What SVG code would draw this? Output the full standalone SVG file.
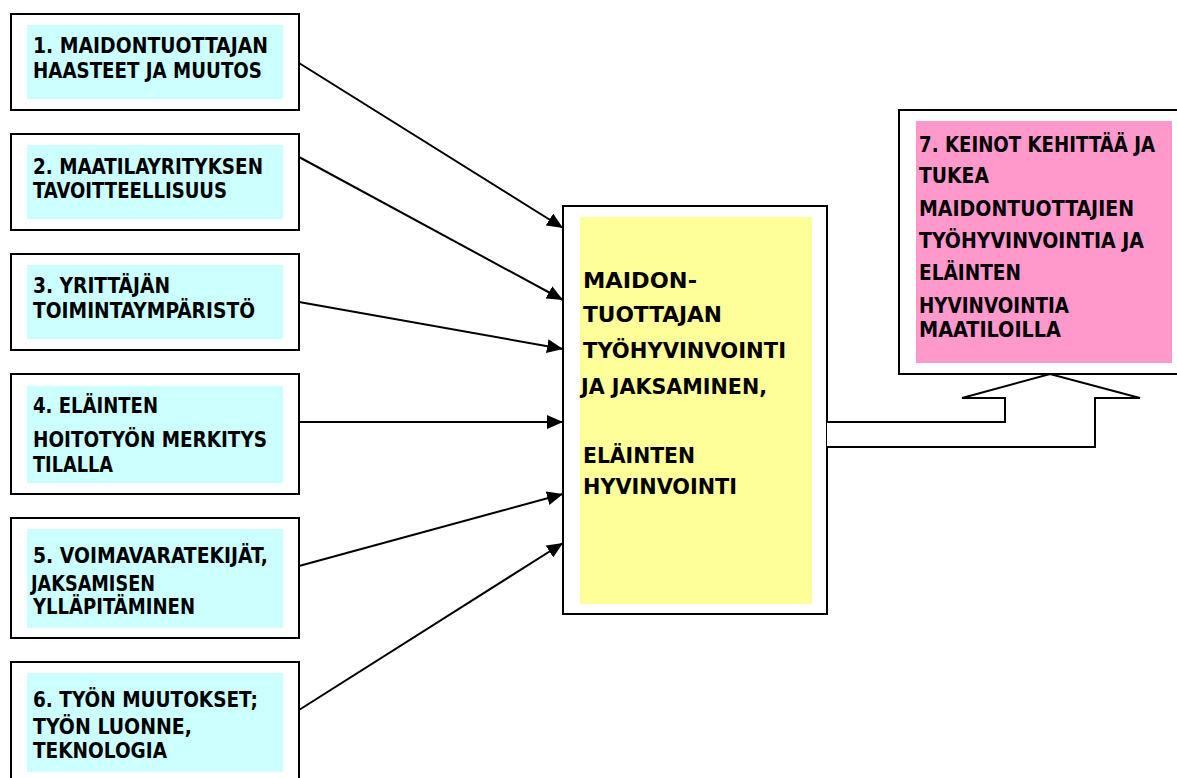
<svg xmlns="http://www.w3.org/2000/svg" width="1177" height="778" viewBox="0 0 1177 778">
<style>
.outer{fill:#fff;stroke:#000;stroke-width:2}
.cyan{fill:#ccffff}
.yellow{fill:#ffff99}
.pink{fill:#ff99cc}
text{font-family:"DejaVu Sans Condensed","DejaVu Sans","Liberation Sans",sans-serif;font-stretch:condensed;font-weight:bold;font-size:21.5px;fill:#000}
.conn line{stroke:#000;stroke-width:2}
</style>
<defs>
<marker id="ah" markerUnits="userSpaceOnUse" markerWidth="16" markerHeight="14" refX="16" refY="7" orient="auto">
<path d="M0,0 L16,7 L0,14 Z" fill="#000"/>
</marker>
</defs>
<rect width="1177" height="778" fill="#fff"/>

<g id="n1">
<rect class="outer" x="11" y="14" width="288" height="96"/>
<rect class="cyan" x="27" y="25" width="256" height="74"/>
<text x="33" y="53" textLength="235" lengthAdjust="spacingAndGlyphs">1. MAIDONTUOTTAJAN</text>
<text x="33" y="78" textLength="229" lengthAdjust="spacingAndGlyphs">HAASTEET JA MUUTOS</text>
</g>
<g id="n2">
<rect class="outer" x="11" y="134" width="288" height="96"/>
<rect class="cyan" x="27" y="145" width="256" height="74"/>
<text x="33" y="174" textLength="230" lengthAdjust="spacingAndGlyphs">2. MAATILAYRITYKSEN</text>
<text x="33" y="198" textLength="194" lengthAdjust="spacingAndGlyphs">TAVOITTEELLISUUS</text>
</g>
<g id="n3">
<rect class="outer" x="11" y="254" width="288" height="96"/>
<rect class="cyan" x="27" y="265" width="256" height="74"/>
<text x="33" y="293" textLength="137" lengthAdjust="spacingAndGlyphs">3. YRITTÄJÄN</text>
<text x="33" y="318" textLength="222" lengthAdjust="spacingAndGlyphs">TOIMINTAYMPÄRISTÖ</text>
</g>
<g id="n4">
<rect class="outer" x="11" y="374" width="288" height="120"/>
<rect class="cyan" x="27" y="386" width="256" height="97"/>
<text x="33" y="413" textLength="125" lengthAdjust="spacingAndGlyphs">4. ELÄINTEN</text>
<text x="33" y="447" textLength="234" lengthAdjust="spacingAndGlyphs">HOITOTYÖN MERKITYS</text>
<text x="33" y="472" textLength="80" lengthAdjust="spacingAndGlyphs">TILALLA</text>
</g>
<g id="n5">
<rect class="outer" x="11" y="518" width="288" height="120"/>
<rect class="cyan" x="27" y="529" width="256" height="99"/>
<text x="33" y="563" textLength="235" lengthAdjust="spacingAndGlyphs">5. VOIMAVARATEKIJÄT,</text>
<text x="31" y="591" textLength="124" lengthAdjust="spacingAndGlyphs">JAKSAMISEN</text>
<text x="33" y="614" textLength="162" lengthAdjust="spacingAndGlyphs">YLLÄPITÄMINEN</text>
</g>
<g id="n6">
<rect class="outer" x="11" y="662" width="288" height="140"/>
<rect class="cyan" x="27" y="673" width="256" height="99"/>
<text x="33" y="707" textLength="225" lengthAdjust="spacingAndGlyphs">6. TYÖN MUUTOKSET;</text>
<text x="33" y="734" textLength="159" lengthAdjust="spacingAndGlyphs">TYÖN LUONNE,</text>
<text x="33" y="758" textLength="134" lengthAdjust="spacingAndGlyphs">TEKNOLOGIA</text>
</g>

<g id="center">
<rect class="outer" x="563" y="206" width="264" height="408"/>
<rect class="yellow" x="580" y="217" width="232" height="387"/>
<text x="583" y="288" textLength="114" lengthAdjust="spacingAndGlyphs">MAIDON-</text>
<text x="583" y="322" textLength="139" lengthAdjust="spacingAndGlyphs">TUOTTAJAN</text>
<text x="583" y="358" textLength="203" lengthAdjust="spacingAndGlyphs">TYÖHYVINVOINTI</text>
<text x="581" y="394" textLength="186" lengthAdjust="spacingAndGlyphs">JA JAKSAMINEN,</text>
<text x="583" y="463" textLength="112" lengthAdjust="spacingAndGlyphs">ELÄINTEN</text>
<text x="583" y="494" textLength="154" lengthAdjust="spacingAndGlyphs">HYVINVOINTI</text>
</g>

<g id="n7">
<rect class="outer" x="899" y="110" width="290" height="264"/>
<rect class="pink" x="916" y="121" width="256" height="242"/>
<text x="919" y="152" textLength="236" lengthAdjust="spacingAndGlyphs">7. KEINOT KEHITTÄÄ JA</text>
<text x="919" y="183" textLength="70" lengthAdjust="spacingAndGlyphs">TUKEA</text>
<text x="919" y="216" textLength="215" lengthAdjust="spacingAndGlyphs">MAIDONTUOTTAJIEN</text>
<text x="919" y="248" textLength="225" lengthAdjust="spacingAndGlyphs">TYÖHYVINVOINTIA JA</text>
<text x="919" y="280" textLength="102" lengthAdjust="spacingAndGlyphs">ELÄINTEN</text>
<text x="919" y="313" textLength="150" lengthAdjust="spacingAndGlyphs">HYVINVOINTIA</text>
<text x="919" y="337" textLength="142" lengthAdjust="spacingAndGlyphs">MAATILOILLA</text>
</g>

<g id="connectors" class="conn">
<line x1="299" y1="63" x2="563" y2="228" marker-end="url(#ah)"/>
<line x1="299" y1="157" x2="563" y2="300" marker-end="url(#ah)"/>
<line x1="299" y1="302" x2="563" y2="349" marker-end="url(#ah)"/>
<line x1="299" y1="422" x2="563" y2="422" marker-end="url(#ah)"/>
<line x1="299" y1="566" x2="563" y2="494" marker-end="url(#ah)"/>
<line x1="299" y1="710" x2="563" y2="543" marker-end="url(#ah)"/>
<path d="M827,422 L1005,422 L1005,398 L962,398 L1050,374 L1140,398 L1095,398 L1095,447 L827,447" fill="#fff" stroke="#000" stroke-width="2"/>
</g>
</svg>
